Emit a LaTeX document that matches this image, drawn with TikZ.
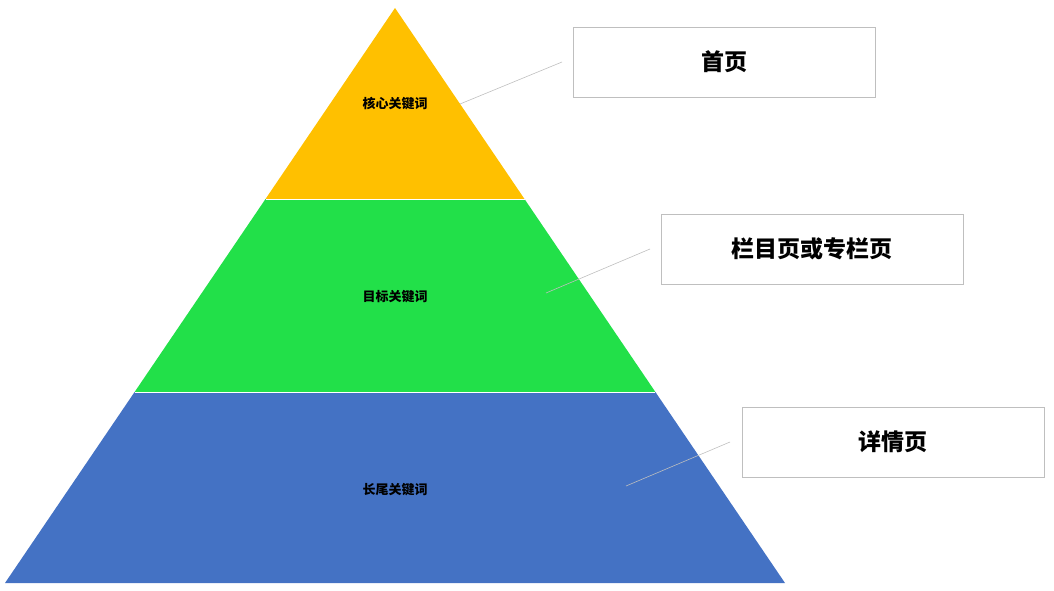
\documentclass[tikz,border=0pt]{standalone}
\usepackage{fontspec}
\newfontfamily\cjk{Noto Sans CJK SC}
\usetikzlibrary{positioning}
\definecolor{topgold}{HTML}{FFC000}
\definecolor{midgreen}{HTML}{22E049}
\definecolor{lowblue}{HTML}{4472C4}
\begin{document}
\begin{tikzpicture}[
    x=1pt, y=-1pt,
    layer/.style={draw=white, line width=0.8pt},
    tag/.style={font=\cjk\bfseries\fontsize{13}{15}\selectfont},
    page/.style={rectangle, draw=black!25, fill=white, minimum width=302pt, minimum height=70pt, font=\cjk\bfseries\fontsize{23}{27}\selectfont},
    link/.style={draw=black!25, line width=0.6pt}
]
\useasboundingbox (0,0) rectangle (1054,591);
% pyramid layers
\fill[topgold] (395,8) -- (524.5,199) -- (265.5,199) -- cycle;
\fill[midgreen] (265.5,199) -- (524.5,199) -- (655.4,392) -- (134.6,392) -- cycle;
\fill[lowblue] (134.6,392) -- (655.4,392) -- (785,583) -- (5,583) -- cycle;
\draw[layer] (265.5,199) -- (524.5,199);
\draw[layer] (134.6,392) -- (655.4,392);

\node[tag] (core) at (395,104) {核心关键词};
\node[tag] (target) at (395,297) {目标关键词};
\node[tag] (tail) at (395,490) {长尾关键词};

\node[page] (home) at (724.5,62) {首页};
\node[page] (column) at (812,249) {栏目页或专栏页};
\node[page] (detail) at (893,442) {详情页};

\coordinate (coreA) at (460,104);
\coordinate (coreB) at (562,62);
\coordinate (targetA) at (546,293);
\coordinate (targetB) at (650,249);
\coordinate (tailA) at (626,486);
\coordinate (tailB) at (730,442);
\draw[link] (coreA) -- (coreB);
\draw[link] (targetA) -- (targetB);
\draw[link] (tailA) -- (tailB);
\end{tikzpicture}
\end{document}
